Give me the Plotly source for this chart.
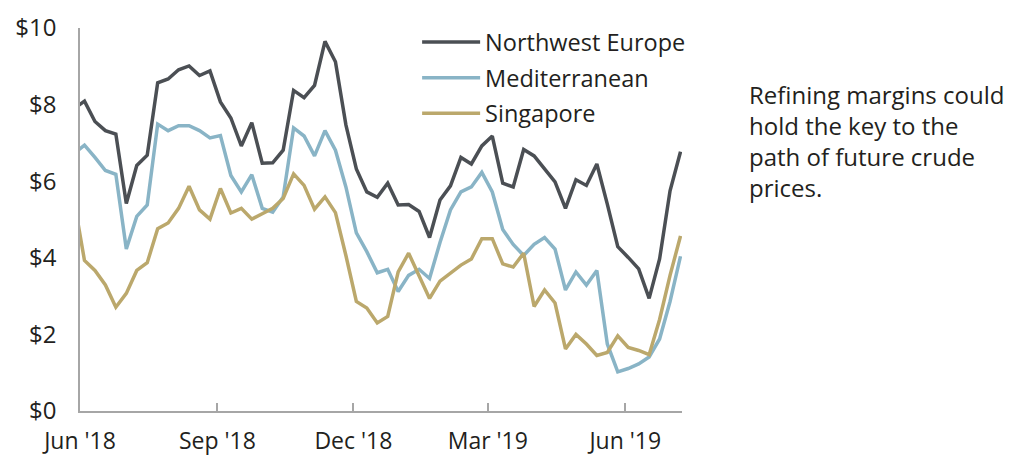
"""Weekly refining margins: Northwest Europe vs Mediterranean vs Singapore."""

import pandas as pd
import plotly.graph_objects as go

# weekly values ($/bbl), first point is the week before the axis starts (clipped)
start_week = "2018-05-28"
northwest_europe = [
    7.90, 8.09, 7.56, 7.32, 7.23, 5.42, 6.41, 6.68, 8.57, 8.67, 8.91, 9.01,
    8.76, 8.88, 8.07, 7.65, 6.92, 7.53, 6.47, 6.48, 6.81, 8.37, 8.18, 8.50,
    9.65, 9.12, 7.47, 6.32, 5.72, 5.58, 5.95, 5.38, 5.39, 5.21, 4.53, 5.51,
    5.88, 6.62, 6.45, 6.92, 7.18, 5.95, 5.85, 6.83, 6.66, 6.32, 5.98, 5.29,
    6.04, 5.89, 6.45, 5.40, 4.29, 4.01, 3.71, 2.94, 3.97, 5.75, 6.77,
]
mediterranean = [
    6.72, 6.94, 6.62, 6.28, 6.18, 4.23, 5.08, 5.38, 7.49, 7.32, 7.45, 7.45,
    7.32, 7.13, 7.19, 6.15, 5.72, 6.17, 5.29, 5.19, 5.59, 7.39, 7.18, 6.66,
    7.32, 6.81, 5.85, 4.65, 4.16, 3.61, 3.70, 3.12, 3.54, 3.70, 3.46, 4.40,
    5.25, 5.72, 5.85, 6.23, 5.72, 4.74, 4.35, 4.06, 4.35, 4.53, 4.23, 3.16,
    3.63, 3.29, 3.67, 1.75, 1.02, 1.11, 1.23, 1.41, 1.88, 2.86, 4.04,
]
singapore = [
    5.50, 3.93, 3.67, 3.29, 2.71, 3.07, 3.67, 3.87, 4.76, 4.91, 5.29, 5.87,
    5.25, 5.01, 5.81, 5.17, 5.29, 5.01, 5.15, 5.29, 5.55, 6.19, 5.89, 5.27,
    5.59, 5.18, 4.06, 2.86, 2.69, 2.30, 2.47, 3.63, 4.12, 3.54, 2.94, 3.39,
    3.61, 3.81, 3.97, 4.50, 4.50, 3.84, 3.76, 4.12, 2.73, 3.16, 2.82, 1.62,
    2.00, 1.75, 1.45, 1.53, 1.96, 1.66, 1.58, 1.47, 2.39, 3.54, 4.57,
]

tick_dates = ["2018-06-01", "2018-09-01", "2018-12-01", "2019-03-01", "2019-06-01"]
tick_labels = ["Jun '18", "Sep '18", "Dec '18", "Mar '19", "Jun '19"]
y_ticks = [0, 2, 4, 6, 8, 10]

note_lines = [
    "Refining margins could",
    "hold the key to the",
    "path of future crude",
    "prices.",
]

FONT = "Open Sans"
TEXT = "#231f20"
AXIS = "#a6a6a6"

dates = pd.date_range(start_week, periods=len(northwest_europe), freq="7D")

series = [
    ("Northwest Europe", northwest_europe, "#4b4f54"),
    ("Mediterranean", mediterranean, "#89b4c6"),
    ("Singapore", singapore, "#bba86c"),
]

fig = go.Figure()
for name, values, color in series:
    fig.add_trace(
        go.Scatter(
            x=dates,
            y=values,
            name=name,
            legendgroup=name,
            mode="lines",
            line=dict(color=color, width=3.5),
        )
    )

for i, line in enumerate(note_lines):
    fig.add_annotation(
        x=1.108,
        y=0.827 - i * 0.0815,
        xref="paper",
        yref="paper",
        xanchor="left",
        yanchor="middle",
        text=line,
        showarrow=False,
        align="left",
        font=dict(family=FONT, size=24, color=TEXT),
    )

# page body keeps its default 8px margin, so the figure is sized to fit inside it
fig.update_layout(
    width=1013,
    height=449,
    margin=dict(l=72, r=339, t=13.5, b=45.5),
    paper_bgcolor="white",
    plot_bgcolor="white",
    font=dict(family=FONT, size=23, color=TEXT),
    showlegend=True,
    legend=dict(
        x=0.56,
        y=1.02,
        xanchor="left",
        yanchor="top",
        bgcolor="rgba(0,0,0,0)",
        itemwidth=58,
        tracegroupgap=2,
        font=dict(family=FONT, size=23.5, color=TEXT),
    ),
)
fig.update_xaxes(
    range=["2018-06-01", "2019-07-09"],
    tickvals=tick_dates,
    ticktext=tick_labels,
    ticks="inside",
    ticklen=8,
    tickcolor=AXIS,
    tickwidth=1.5,
    showline=True,
    linecolor=AXIS,
    linewidth=1.5,
    showgrid=False,
    zeroline=False,
    automargin=False,
    ticklabelstandoff=9,
    tickfont=dict(family=FONT, size=23, color=TEXT),
)
fig.update_yaxes(
    range=[0, 10],
    tickvals=y_ticks,
    ticktext=[f"${v}" for v in y_ticks],
    ticks="",
    showline=True,
    linecolor=AXIS,
    linewidth=1.5,
    showgrid=False,
    zeroline=False,
    automargin=False,
    ticklabelstandoff=17,
    tickfont=dict(family=FONT, size=24, color=TEXT),
)

fig.write_html("out.html")
